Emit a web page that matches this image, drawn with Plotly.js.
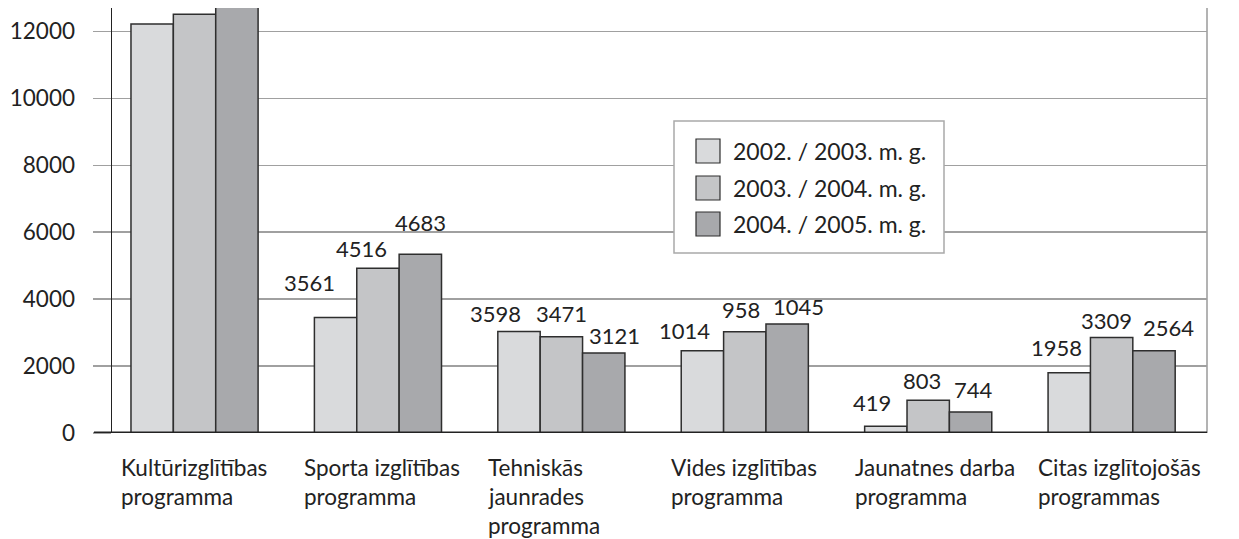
<!DOCTYPE html>
<html>
<head>
<meta charset="utf-8">
<script src="https://cdn.plot.ly/plotly-3.0.1.min.js"></script>
<style>
  html, body { margin: 0; padding: 0; background: #fff; }
  #chart { width: 1239px; height: 539px; }
</style>
</head>
<body>
<div id="chart"></div>
<script>
// ---- data ----
const categories = [
  "Kultūrizglītības\nprogramma",
  "Sporta izglītības\nprogramma",
  "Tehniskās\njaunrades\nprogramma",
  "Vides izglītības\nprogramma",
  "Jaunatnes darba\nprogramma",
  "Citas izglītojošās\nprogrammas"
];
const seriesNames = ["2002. / 2003. m. g.", "2003. / 2004. m. g.", "2004. / 2005. m. g."];
// bar heights as drawn in the picture
const v2002 = [12220, 3450, 3030, 2460, 200, 1800];
const v2003 = [12510, 4920, 2875, 3025, 975, 2855];
const v2004 = [13300, 5340, 2390, 3255, 630, 2460];
// value labels printed above the bars (first group has none)
const lab2002 = ["", "3561", "3598", "1014", "419", "1958"];
const lab2003 = ["", "4516", "3471", "958", "803", "3309"];
const lab2004 = ["", "4683", "3121", "1045", "744", "2564"];
const yTicks = [0, 2000, 4000, 6000, 8000, 10000, 12000];

// ---- style ----
const FONT = "Lato, 'Noto Sans', sans-serif";
const colors = ["#d9dadc", "#c4c5c7", "#a8a9ac"];
const edge = "#2e2e2e";
const W = 1239, H = 539;
const M = { l: 112, r: 32, t: 8, b: 106 };
const PW = W - M.l - M.r, PH = H - M.t - M.b;
const px = x => (x - M.l) / PW;          // pixel -> paper x
const py = y => (H - M.b - y) / PH;      // pixel -> paper y

const bargap = 0.307;
const barW = (1 - bargap) / 3;
const xIdx = categories.map((_, i) => i);

const values = [v2002, v2003, v2004];
const labels = [lab2002, lab2003, lab2004];

// pixel nudges of each value label relative to its bar's top centre [series][category] -> [dx, dy]
const labelShift = [
  [null, [-26, 35], [-24, 18], [-18, 20], [-14, 24], [-13, 25]],
  [null, [-16, 20], [0, 23], [-4, 22], [-6, 20], [-5, 17]],
  [null, [0, 32], [11, 18], [11, 18], [3, 22], [15, 23]]
];

const traces = values.map((vals, j) => ({
  type: "bar",
  name: seriesNames[j],
  x: xIdx,
  y: vals,
  marker: { color: colors[j], line: { color: edge, width: 1.5 } },
  showlegend: false,
  hoverinfo: "skip"
}));

const annotations = [];
// value labels
labels.forEach((labs, j) => {
  labs.forEach((t, i) => {
    if (!t) return;
    const s = labelShift[j][i] || [0, 20];
    annotations.push({
      x: i + (j - 1) * barW, y: values[j][i], xref: "x", yref: "y",
      text: t, showarrow: false, xanchor: "center", yanchor: "middle",
      xshift: s[0], yshift: s[1],
      font: { family: FONT, size: 22, color: "#222" }
    });
  });
});
// category labels (left aligned multi-line blocks)
categories.forEach((c, i) => {
  c.split("\n").forEach((line, k) => {
    annotations.push({
      x: i - (1 - bargap) / 2, y: py(467 + k * 29), xref: "x", yref: "paper",
      text: line, showarrow: false, xanchor: "left", yanchor: "middle",
      xshift: -12, font: { family: FONT, size: 22.5, color: "#222" }
    });
  });
});

// hand-drawn legend
const shapes = [];
shapes.push({ type: "rect", xref: "paper", yref: "paper",
  x0: px(674), x1: px(944), y0: py(253), y1: py(121),
  fillcolor: "#fff", line: { color: "#a9a9a9", width: 1.5 }, layer: "above" });
const rowY = [151, 188, 224];
seriesNames.forEach((n, j) => {
  shapes.push({ type: "rect", xref: "paper", yref: "paper",
    x0: px(696), x1: px(720), y0: py(rowY[j] + 12), y1: py(rowY[j] - 12),
    fillcolor: colors[j], line: { color: edge, width: 1.2 }, layer: "above" });
  annotations.push({ x: px(731), y: py(rowY[j]), xref: "paper", yref: "paper",
    text: n, showarrow: false, xanchor: "left", yanchor: "middle",
    font: { family: FONT, size: 23, color: "#222" } });
});
// right frame line
shapes.push({ type: "line", xref: "paper", yref: "paper", x0: 1, x1: 1, y0: 0, y1: 1,
  line: { color: "#9a9a9a", width: 1.5 }, layer: "below" });
// thick baseline extending left of axis
shapes.push({ type: "line", xref: "paper", yref: "y", x0: px(94), x1: 1, y0: 0, y1: 0,
  line: { color: "#222", width: 3 }, layer: "above" });

const layout = {
  width: W, height: H,
  margin: M,
  paper_bgcolor: "#fff", plot_bgcolor: "#fff",
  barmode: "group", bargap: bargap, bargroupgap: 0,
  font: { family: FONT, color: "#222" },
  xaxis: {
    type: "linear", range: [-0.45, 5.52], showticklabels: false, ticks: "",
    showgrid: false, zeroline: false, showline: false, fixedrange: true
  },
  yaxis: {
    range: [0, 12700], tickvals: yTicks, ticktext: yTicks.map(String),
    showgrid: true, gridcolor: "#a0a0a0", gridwidth: 1.5,
    ticks: "outside", ticklen: 18, tickcolor: "#a0a0a0", tickwidth: 1.5,
    ticklabelstandoff: 13,
    showline: true, linecolor: "#222", linewidth: 1.5,
    zeroline: false,
    tickfont: { family: FONT, size: 22.5, color: "#222" }, fixedrange: true
  },
  shapes: shapes,
  annotations: annotations,
  showlegend: false
};

Plotly.newPlot("chart", traces, layout, { displayModeBar: false, staticPlot: true });
</script>
</body>
</html>
